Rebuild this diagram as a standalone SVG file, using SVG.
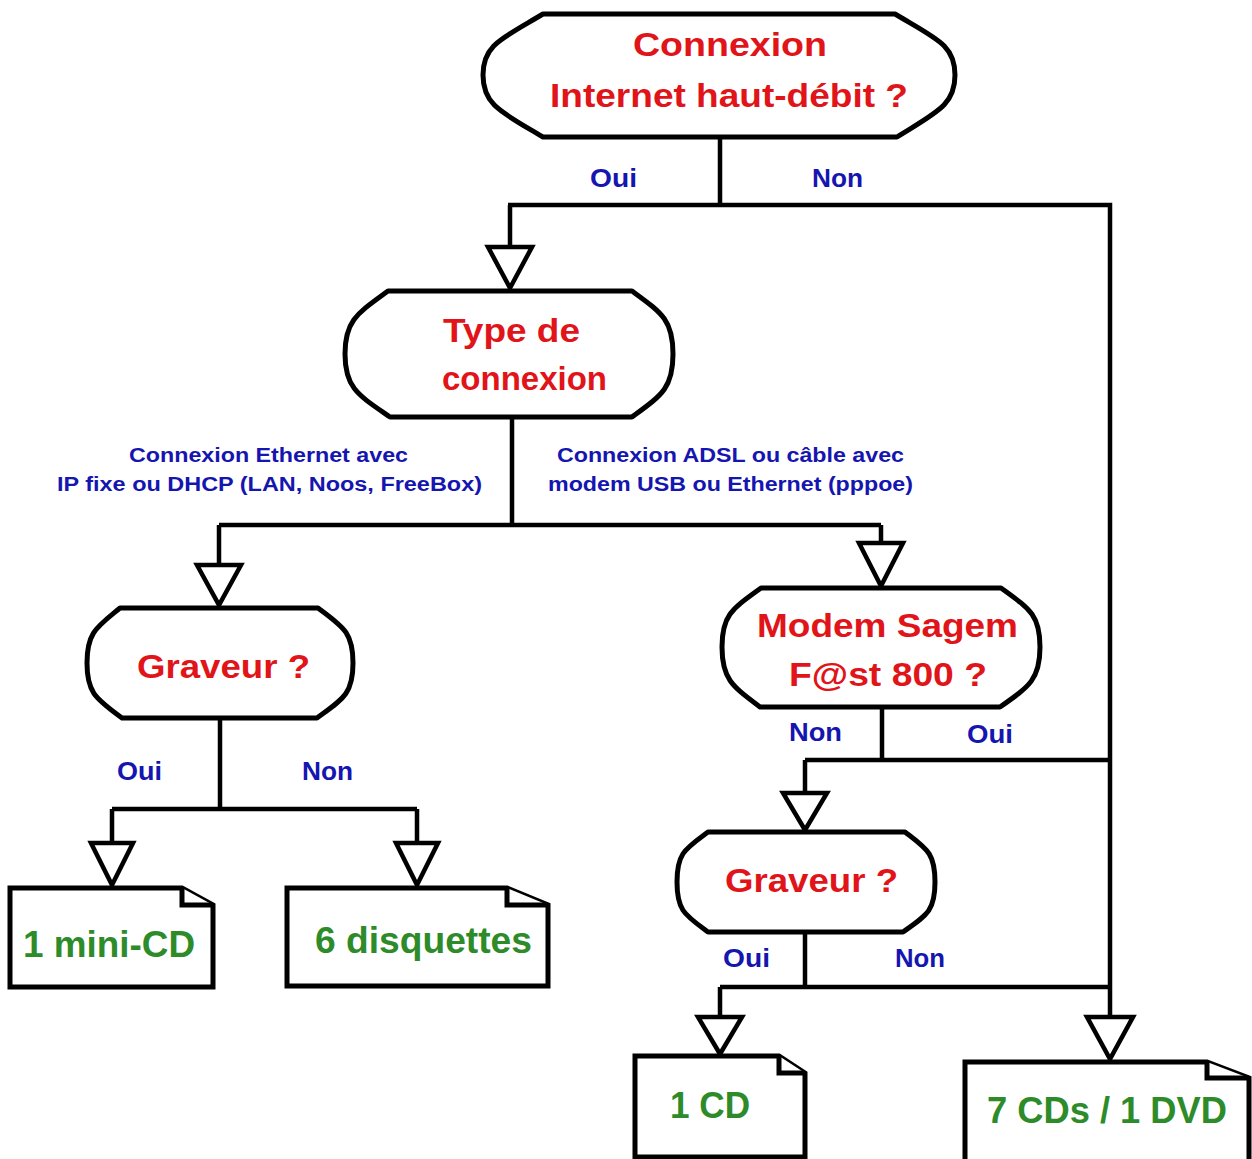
<svg xmlns="http://www.w3.org/2000/svg" width="1252" height="1159" viewBox="0 0 1252 1159">
<style>
.node{fill:#fff;stroke:#000;stroke-width:5;stroke-linejoin:round}
.box{fill:#fff;stroke:#000;stroke-width:5;stroke-linejoin:miter}
.line{fill:none;stroke:#000;stroke-width:4.5}
.arr{fill:#fff;stroke:#000;stroke-width:4.5;stroke-linejoin:miter}
.t{font-family:"Liberation Sans",Arial,sans-serif;font-weight:bold}
.red{fill:#e01419;font-size:34px}
.blue{fill:#1515b0;font-size:26px}
.sm{fill:#1515b0;font-size:20px}
.green{fill:#2e8b2a;font-size:37px}
</style>
<rect width="1252" height="1159" fill="#fff"/>
<g id="connectors">
<path class="line" d="M720,137 V205 M508,205 H1110 V1017 M510,205 V247"/>
<polygon class="arr" points="488,247 532,247 510,288"/>
<path class="line" d="M512,417 V525 M219,525 H881 M219,525 V565 M881,525 V543"/>
<polygon class="arr" points="197,565 241,565 219,605"/>
<polygon class="arr" points="859,543 903,543 881,586"/>
<path class="line" d="M220,718 V809 M112,809 H417 M112,809 V843 M417,809 V843"/>
<polygon class="arr" points="91,843 133,843 112,885"/>
<polygon class="arr" points="396,843 438,843 417,885"/>
<path class="line" d="M882,707 V760 M805,760 H1110 M805,760 V793"/>
<polygon class="arr" points="783,793 827,793 805,830"/>
<path class="line" d="M805,932 V987 M720,987 H1110 M720,987 V1017"/>
<polygon class="arr" points="698,1017 742,1017 720,1054"/>
<polygon class="arr" points="1087,1017 1133,1017 1110,1059"/>
<text class="t blue" x="590" y="187" textLength="47" lengthAdjust="spacingAndGlyphs">Oui</text>
<text class="t blue" x="812" y="187" textLength="51" lengthAdjust="spacingAndGlyphs">Non</text>
<text class="t sm" x="129" y="462" textLength="279" lengthAdjust="spacingAndGlyphs">Connexion Ethernet avec</text>
<text class="t sm" x="57" y="491" textLength="425" lengthAdjust="spacingAndGlyphs">IP fixe ou DHCP (LAN, Noos, FreeBox)</text>
<text class="t sm" x="557" y="462" textLength="347" lengthAdjust="spacingAndGlyphs">Connexion ADSL ou câble avec</text>
<text class="t sm" x="548" y="491" textLength="365" lengthAdjust="spacingAndGlyphs">modem USB ou Ethernet (pppoe)</text>
<text class="t blue" x="117" y="780" textLength="45" lengthAdjust="spacingAndGlyphs">Oui</text>
<text class="t blue" x="302" y="780" textLength="51" lengthAdjust="spacingAndGlyphs">Non</text>
<text class="t blue" x="789" y="741" textLength="53" lengthAdjust="spacingAndGlyphs">Non</text>
<text class="t blue" x="967" y="743" textLength="46" lengthAdjust="spacingAndGlyphs">Oui</text>
<text class="t blue" x="723" y="967" textLength="47" lengthAdjust="spacingAndGlyphs">Oui</text>
<text class="t blue" x="895" y="967" textLength="50" lengthAdjust="spacingAndGlyphs">Non</text>
</g>
<g id="n-internet">
<path class="node" d="M543,14 H895 C937,39 955,45 955,75 C955,105 937,112 897,137 H543 C501,112 483,105 483,75 C483,45 501,39 543,14 Z"/>
<text class="t red" x="633" y="56" textLength="194" lengthAdjust="spacingAndGlyphs">Connexion</text>
<text class="t red" x="550" y="107" textLength="358" lengthAdjust="spacingAndGlyphs">Internet haut-débit ?</text>
</g>
<g id="n-type">
<path class="node" d="M388,291 H632 C662,313 673,320 673,354 C673,388 662,395 632,417 H390 C358,395 345,388 345,354 C345,320 358,313 388,291 Z"/>
<text class="t red" x="443" y="342" textLength="137" lengthAdjust="spacingAndGlyphs">Type de</text>
<text class="t red" x="442" y="390" textLength="165" lengthAdjust="spacingAndGlyphs">connexion</text>
</g>
<g id="n-graveur1">
<path class="node" d="M120,608 H318 C343,627 353,632 353,663 C353,694 343,699 317,718 H122 C97,699 87,694 87,663 C87,632 97,627 120,608 Z"/>
<text class="t red" x="137" y="678" textLength="173" lengthAdjust="spacingAndGlyphs">Graveur ?</text>
</g>
<g id="n-modem">
<path class="node" d="M761,588 H1001 C1030,609 1040,615 1040,647 C1040,679 1030,686 1000,707 H760 C732,686 722,679 722,647 C722,615 732,609 761,588 Z"/>
<text class="t red" x="757" y="637" textLength="261" lengthAdjust="spacingAndGlyphs">Modem Sagem</text>
<text class="t red" x="789" y="686" textLength="198" lengthAdjust="spacingAndGlyphs">F@st 800 ?</text>
</g>
<g id="n-graveur2">
<path class="node" d="M708,832 H905 C927,849 935,853 935,882 C935,911 927,915 903,932 H708 C685,915 677,911 677,882 C677,853 685,849 708,832 Z"/>
<text class="t red" x="725" y="892" textLength="173" lengthAdjust="spacingAndGlyphs">Graveur ?</text>
</g>
<g id="r-minicd">
<path class="box" d="M10,888 H182 L213,905 V987 H10 Z"/>
<path class="box" d="M182,888 V905 H213"/>
<text class="t green" x="23" y="957" textLength="172" lengthAdjust="spacingAndGlyphs">1 mini-CD</text>
</g>
<g id="r-disquettes">
<path class="box" d="M287,888 H507 L548,905 V986 H287 Z"/>
<path class="box" d="M507,888 V905 H548"/>
<text class="t green" x="315" y="953" textLength="217" lengthAdjust="spacingAndGlyphs">6 disquettes</text>
</g>
<g id="r-cd">
<path class="box" d="M635,1056 H779 L805,1073 V1157 H635 Z"/>
<path class="box" d="M779,1056 V1073 H805"/>
<text class="t green" x="670" y="1118" textLength="80" lengthAdjust="spacingAndGlyphs">1 CD</text>
</g>
<g id="r-dvd">
<path class="box" d="M965,1062 H1207 L1249,1078 V1170 H965 Z"/>
<path class="box" d="M1207,1062 V1078 H1249"/>
<text class="t green" x="987" y="1123" textLength="240" lengthAdjust="spacingAndGlyphs">7 CDs / 1 DVD</text>
</g>
</svg>
